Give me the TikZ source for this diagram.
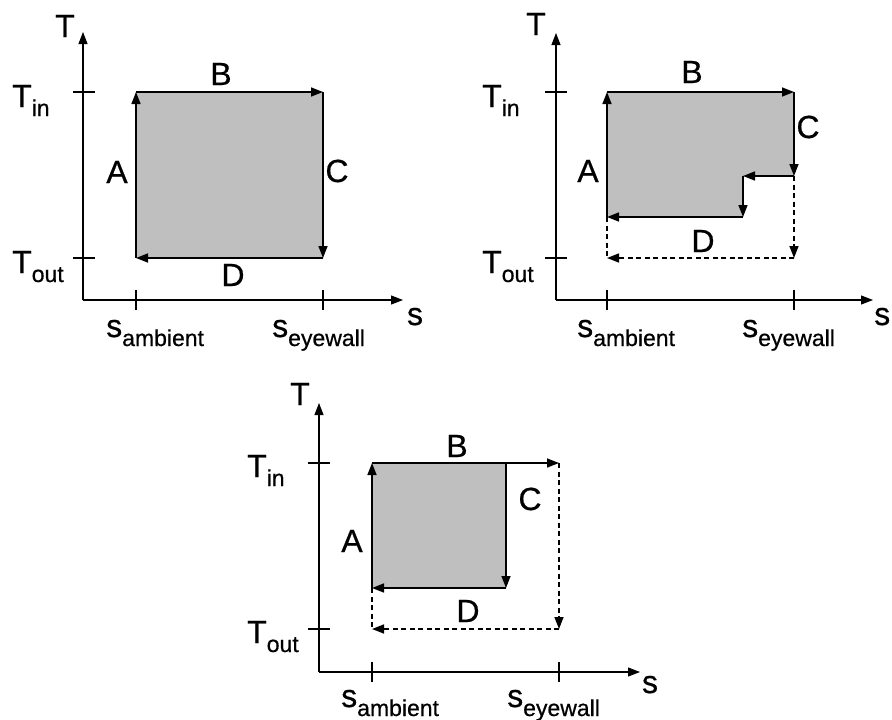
\documentclass[tikz,border=0pt]{standalone}
\usepackage{fontspec}
\setmainfont[FakeBold=0.6,AutoFakeBold=0.6]{Liberation Sans}
\usetikzlibrary{arrows.meta}
\newcommand\lblfont{\fontsize{32}{33}\selectfont\bfseries}
\newcommand\mysubf{\fontsize{23}{24}\selectfont\bfseries}
\newcommand\subsc[2]{#1\raisebox{-9pt}{\mysubf #2}}
\begin{document}
\begin{tikzpicture}[x=1pt,y=-1pt,
  axis/.style={line width=1.1pt,-{Triangle[length=12pt,width=9pt]}},
  tickline/.style={line width=1.1pt},
  edge/.style={line width=1.5pt,-{Triangle[length=12pt,width=9pt]}},
  dedge/.style={edge,dash pattern=on 5pt off 3.5pt},
  dline/.style={line width=1.5pt,dash pattern=on 5pt off 3.5pt},
  lbl/.style={font=\lblfont,inner sep=0pt,anchor=base},
  lblw/.style={font=\lblfont,inner sep=0pt,anchor=base west},
  area/.style={fill=black!25}]
\useasboundingbox (0,0) rectangle (892,720);

% ================= Panel 1 =================
\coordinate (o1) at (83,300);
\coordinate (ty1) at (83,32);
\coordinate (sx1) at (403,300);
\draw[axis] (o1) -- (ty1);
\draw[axis] (o1) -- (sx1);
\draw[tickline] (73,92) -- (95,92);
\draw[tickline] (73,258) -- (95,258);
\draw[tickline] (136,290) -- (136,310);
\draw[tickline] (323,290) -- (323,310);
\coordinate (a1) at (136,258);
\coordinate (b1) at (136,92);
\coordinate (c1) at (323,92);
\coordinate (d1) at (323,258);
\fill[area] (a1) rectangle (c1);
\draw[edge] (a1) -- (b1);
\draw[edge] (b1) -- (c1);
\draw[edge] (c1) -- (d1);
\draw[edge] (d1) -- (a1);
\node[lbl] (T1) at (65,37) {T};
\node[lbl] (S1) at (415,325) {s};
\node[lbl] (B1) at (221,85) {B};
\node[lbl] (A1) at (117,183) {A};
\node[lbl] (C1) at (337,182) {C};
\node[lbl] (D1) at (233,286) {D};
\node[lblw] (tin1) at (12,107) {\subsc{T}{in}};
\node[lblw] (tout1) at (12,273) {\subsc{T}{out}};
\node[lblw] (samb1) at (106,337) {\subsc{s}{ambient}};
\node[lblw] (seye1) at (272,337) {\subsc{s}{eyewall}};

% ================= Panel 2 =================
\coordinate (o2) at (556,300);
\coordinate (ty2) at (556,33);
\coordinate (sx2) at (873,300);
\draw[axis] (o2) -- (ty2);
\draw[axis] (o2) -- (sx2);
\draw[tickline] (545,92) -- (567,92);
\draw[tickline] (545,258) -- (567,258);
\draw[tickline] (607,290) -- (607,310);
\draw[tickline] (794,290) -- (794,310);
\coordinate (a2) at (607,217);
\coordinate (b2) at (607,92);
\coordinate (c2) at (794,92);
\coordinate (d2) at (794,176);
\coordinate (e2) at (743,176);
\coordinate (f2) at (743,217);
\coordinate (g2) at (794,258);
\coordinate (h2) at (607,258);
\fill[area] (a2) -- (b2) -- (c2) -- (d2) -- (e2) -- (f2) -- cycle;
\draw[dline] (a2) -- (h2);
\draw[dedge] (d2) -- (g2);
\draw[dedge] (g2) -- (h2);
\draw[edge] (a2) -- (b2);
\draw[edge] (b2) -- (c2);
\draw[edge] (c2) -- (d2);
\draw[edge] (d2) -- (e2);
\draw[edge] (e2) -- (f2);
\draw[edge] (f2) -- (a2);
\node[lbl] (T2) at (536,35) {T};
\node[lblw] (S2) at (874,325) {s};
\node[lbl] (B2) at (692,83) {B};
\node[lbl] (A2) at (588,182) {A};
\node[lbl] (C2) at (808,138) {C};
\node[lbl] (D2) at (703,252) {D};
\node[lblw] (tin2) at (482,107) {\subsc{T}{in}};
\node[lblw] (tout2) at (482,273) {\subsc{T}{out}};
\node[lblw] (samb2) at (577,337) {\subsc{s}{ambient}};
\node[lblw] (seye2) at (742,337) {\subsc{s}{eyewall}};

% ================= Panel 3 =================
\coordinate (o3) at (319,672);
\coordinate (ty3) at (319,403);
\coordinate (sx3) at (640,672);
\draw[axis] (o3) -- (ty3);
\draw[axis] (o3) -- (sx3);
\draw[tickline] (308,463) -- (330,463);
\draw[tickline] (308,629) -- (330,629);
\draw[tickline] (372,662) -- (372,682);
\draw[tickline] (559,662) -- (559,682);
\coordinate (a3) at (372,588);
\coordinate (b3) at (372,463);
\coordinate (c3) at (559,463);
\coordinate (d3) at (559,629);
\coordinate (e3) at (372,629);
\coordinate (m3) at (506,463);
\coordinate (n3) at (506,588);
\fill[area] (a3) rectangle (m3);
\draw[dline] (a3) -- (e3);
\draw[dedge] (c3) -- (d3);
\draw[dedge] (d3) -- (e3);
\draw[edge] (a3) -- (b3);
\draw[edge] (b3) -- (c3);
\draw[edge] (m3) -- (n3);
\draw[edge] (n3) -- (a3);
\node[lbl] (T3) at (300,405) {T};
\node[lbl] (S3) at (650,693) {s};
\node[lbl] (B3) at (457,457) {B};
\node[lbl] (A3) at (352,552) {A};
\node[lbl] (C3) at (530,510) {C};
\node[lbl] (D3) at (468,622) {D};
\node[lblw] (tin3) at (247,477) {\subsc{T}{in}};
\node[lblw] (tout3) at (247,643) {\subsc{T}{out}};
\node[lblw] (samb3) at (341,707) {\subsc{s}{ambient}};
\node[lblw] (seye3) at (507,707) {\subsc{s}{eyewall}};
\end{tikzpicture}
\end{document}
